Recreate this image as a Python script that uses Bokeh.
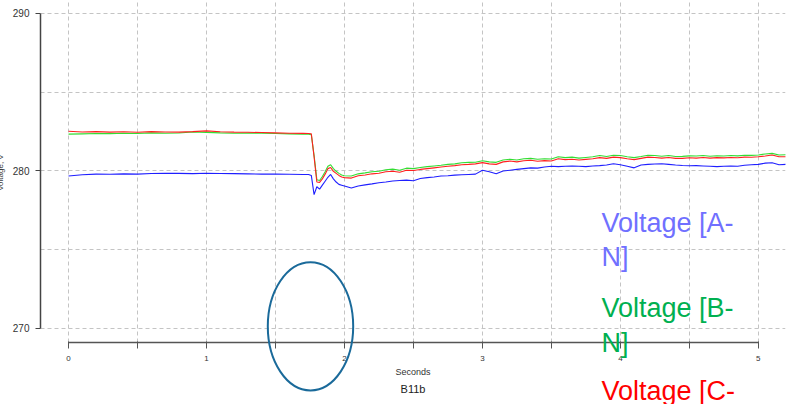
import math
from bokeh.plotting import figure
from bokeh.models import Range1d, FixedTicker, Title
from bokeh.core.properties import value
from bokeh.embed import file_html
from bokeh.resources import INLINE

# ---------------- data ----------------
time_s = [0.00, 0.10, 0.20, 0.30, 0.40, 0.50, 0.60, 0.70, 0.80, 0.90, 1.00, 1.10, 1.20, 1.30, 1.40, 1.50, 1.60, 1.70,
          1.74, 1.76, 1.78, 1.80, 1.82, 1.84, 1.86, 1.88, 1.90, 1.92, 1.94, 1.96, 1.98,
          2.00, 2.05, 2.10, 2.15, 2.20, 2.25, 2.30, 2.35, 2.40, 2.45, 2.50, 2.55, 2.60, 2.65, 2.70, 2.75, 2.80, 2.85, 2.90, 2.95,
          3.00, 3.05, 3.10, 3.15, 3.20, 3.25, 3.30, 3.35, 3.40, 3.45, 3.50, 3.55, 3.60, 3.65, 3.70, 3.75, 3.80, 3.85, 3.90, 3.95,
          4.00, 4.05, 4.10, 4.15, 4.20, 4.25, 4.30, 4.35, 4.40, 4.45, 4.50, 4.55, 4.60, 4.65, 4.70, 4.75, 4.80, 4.85, 4.90, 4.95,
          5.00, 5.05, 5.10, 5.15, 5.20]

volt_a = [279.68, 279.76, 279.80, 279.79, 279.82, 279.80, 279.84, 279.86, 279.85, 279.83, 279.86, 279.84, 279.83, 279.82, 279.80, 279.80, 279.79, 279.78,
          279.78, 279.72, 278.50, 279.00, 278.85, 279.10, 279.35, 279.60, 279.78, 279.50, 279.30, 279.15, 279.10,
          279.05, 278.92, 279.05, 279.12, 279.18, 279.25, 279.30, 279.36, 279.40, 279.42, 279.38, 279.52, 279.58, 279.62, 279.68, 279.70, 279.74, 279.76, 279.78, 279.80,
          280.05, 279.95, 279.82, 280.00, 280.05, 280.10, 280.15, 280.20, 280.18, 280.25, 280.30, 280.28, 280.30, 280.32, 280.30, 280.28, 280.32, 280.34, 280.38, 280.46,
          280.40, 280.30, 280.20, 280.38, 280.42, 280.44, 280.46, 280.42, 280.38, 280.35, 280.33, 280.34, 280.32, 280.30, 280.28, 280.30, 280.32, 280.30, 280.36, 280.40,
          280.42, 280.50, 280.52, 280.40, 280.42]

volt_b = [282.34, 282.36, 282.38, 282.37, 282.40, 282.38, 282.42, 282.40, 282.41, 282.48, 282.45, 282.42, 282.40, 282.41, 282.40, 282.38, 282.36, 282.34,
          282.33, 282.30, 281.00, 279.45, 279.40, 279.65, 279.95, 280.30, 280.40, 280.15, 279.98, 279.85, 279.75,
          279.70, 279.68, 279.82, 279.88, 279.95, 279.98, 280.08, 280.12, 280.05, 280.18, 280.15, 280.22, 280.28, 280.32, 280.36, 280.42, 280.45, 280.52, 280.55, 280.56,
          280.65, 280.58, 280.55, 280.70, 280.75, 280.70, 280.78, 280.80, 280.75, 280.78, 280.76, 280.90, 280.85, 280.88, 280.82, 280.86, 280.90, 280.98, 280.92, 281.00,
          280.98, 280.90, 280.85, 280.92, 281.00, 280.98, 280.94, 280.98, 280.92, 280.93, 280.96, 280.95, 280.98, 280.94, 280.97, 280.95, 280.98, 280.96, 281.00, 280.99,
          281.02, 281.08, 281.12, 281.02, 281.03]

volt_c = [282.52, 282.48, 282.50, 282.47, 282.49, 282.46, 282.50, 282.48, 282.47, 282.50, 282.55, 282.49, 282.47, 282.46, 282.44, 282.42, 282.40, 282.39,
          282.38, 282.36, 280.90, 279.30, 279.28, 279.50, 279.80, 280.15, 280.22, 279.98, 279.85, 279.72, 279.62,
          279.58, 279.55, 279.70, 279.75, 279.82, 279.86, 279.95, 279.98, 279.92, 280.05, 280.03, 280.10, 280.15, 280.20, 280.25, 280.30, 280.34, 280.40, 280.42, 280.45,
          280.53, 280.45, 280.42, 280.58, 280.63, 280.58, 280.65, 280.68, 280.62, 280.66, 280.63, 280.78, 280.72, 280.75, 280.70, 280.74, 280.78, 280.85, 280.80, 280.88,
          280.85, 280.78, 280.72, 280.80, 280.88, 280.86, 280.82, 280.86, 280.80, 280.80, 280.84, 280.82, 280.86, 280.82, 280.85, 280.83, 280.86, 280.84, 280.88, 280.87,
          280.90, 280.95, 281.02, 280.90, 280.90]

# legend text as wrapped in the reference (the second line of C falls below the picture)
series_labels = [["Voltage [A-", "N]"], ["Voltage [B-", "N]"], ["Voltage [C-"]]
x_ticks = [0, 1, 2, 3, 4, 5]
x_minor_ticks = [0.5, 1.5, 2.5, 3.5, 4.5]
x_grid_ticks = [0, 0.5, 1, 1.5, 2, 2.5, 3, 3.5, 4, 4.5, 5]
y_ticks = [270, 280, 290]
y_grid_ticks = [270, 275, 280, 285, 290]
x_title = "Seconds"
y_title = "Voltage, V"
chart_title = "B11b"

# ---------------- styles ----------------
FONT = "Liberation Sans"
line_colors = ["#1f1fff", "#33dd33", "#ff2020"]
label_colors = ["#7070ff", "#00b050", "#ff0000"]

p = figure(width=798, height=404, output_backend="svg", toolbar_location=None, title=None,
           x_range=Range1d(-0.203, 5.197), y_range=Range1d(269.111, 290.825),
           min_border_left=40, min_border_right=13, min_border_top=0, min_border_bottom=62)
p.outline_line_color = None
p.background_fill_color = "white"
p.border_fill_color = "white"

# grids
p.xgrid.ticker = FixedTicker(ticks=x_grid_ticks)
p.ygrid.ticker = FixedTicker(ticks=y_grid_ticks)
for g in (p.xgrid, p.ygrid):
    g.grid_line_color = "#c4c4c4"
    g.grid_line_dash = "4 3"
    g.grid_line_width = 1

# axes
xa = p.xaxis[0]
xa.ticker = FixedTicker(ticks=x_ticks, minor_ticks=x_minor_ticks)
xa.bounds = (0, 5)
xa.axis_line_color = "#555555"
xa.axis_line_width = 1.5
xa.major_tick_line_color = "#555555"
xa.minor_tick_line_color = "#555555"
xa.major_tick_out = 6
xa.major_tick_in = 1
xa.minor_tick_out = 6
xa.minor_tick_in = 1
xa.major_label_text_font = FONT
xa.major_label_text_font_size = "8px"
xa.major_label_text_color = "#333333"
xa.major_label_standoff = 7
xa.axis_label = x_title
xa.axis_label_text_font = FONT
xa.axis_label_text_font_size = "9px"
xa.axis_label_text_font_style = "normal"
xa.axis_label_text_color = "#333333"
xa.axis_label_standoff = 3

ya = p.yaxis[0]
ya.ticker = FixedTicker(ticks=y_ticks, minor_ticks=[])
ya.bounds = (270, 290)
ya.axis_line_color = "#444444"
ya.axis_line_width = 1.5
ya.major_tick_line_color = "#444444"
ya.major_tick_out = 5
ya.major_tick_in = 0
ya.minor_tick_out = 0
ya.major_label_text_font = FONT
ya.major_label_text_font_size = "10px"
ya.major_label_text_color = "#333333"
ya.major_label_standoff = 6

p.add_layout(Title(text=chart_title, align="center", text_font=FONT, text_font_size="11px",
                   text_font_style="normal", text_color="#222222", standoff=2), "below")

# series (blue, green, red drawn in that order)
for vals, col in zip([volt_a, volt_b, volt_c], line_colors):
    p.line(time_s, vals, line_color=col, line_width=1.1)

# highlight ellipse around the dip
p.ellipse(x=[1.754], y=[270.14], width=0.619, height=8.146, fill_color=None,
          line_color="#1a6a9a", line_width=2, level="overlay")

# y axis title (partially off canvas as in the reference)
p.text(x=[-0.49], y=[279.9], text=[y_title], angle=math.pi / 2, text_align="center",
       text_baseline="middle", text_font=value(FONT), text_font_size=value("8px"),
       text_color="#333333", level="overlay")

# legend-like labels
label_x = 3.863
label_baselines = [[276.667, 274.508], [271.270, 269.048], [266.0]]
for lines, col, ys in zip(series_labels, label_colors, label_baselines):
    p.text(x=[label_x] * len(lines), y=ys, text=lines, text_align="left", text_baseline="alphabetic",
           text_font=value(FONT), text_font_size=value("27px"), text_color=col, level="overlay")

open("out.html", "w").write(file_html(p, INLINE))
